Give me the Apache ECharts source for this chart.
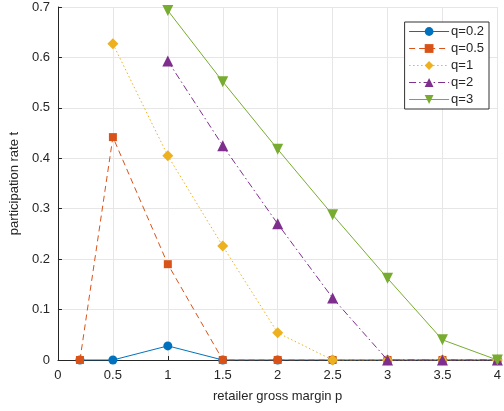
<!DOCTYPE html>
<html>
<head>
<meta charset="utf-8">
<script src="https://cdn.jsdelivr.net/npm/echarts@6/dist/echarts.min.js"></script>
<style>
  html, body { margin: 0; padding: 0; background: #fff; }
  #chart { width: 504px; height: 411px; }
</style>
</head>
<body>
<div id="chart"></div>
<script>
// Retailer gross margin p (x) vs participation rate t (y) for several q values
const margins = [0.2, 0.5, 1, 1.5, 2, 2.5, 3, 3.5, 4];
const rateQ02 = [0, 0, 0.028, 0, 0, 0, 0, 0, 0];
const rateQ05 = [0, 0.442, 0.19, 0, 0, 0, 0, 0, 0];
const rateQ1  = [null, 0.627, 0.405, 0.226, 0.054, 0, 0, 0, 0];
const rateQ2  = [null, null, 0.593, 0.425, 0.27, 0.123, 0, 0, 0];
const rateQ3  = [null, null, 0.693, 0.552, 0.418, 0.288, 0.162, 0.04, 0];
const seriesNames = ['q=0.2', 'q=0.5', 'q=1', 'q=2', 'q=3'];

const colors = ['#0072BD', '#D95319', '#EDB120', '#7E2F8E', '#77AC30'];
const lineTypes = ['solid', [6, 4], [1.5, 2.5], [7, 3, 1.5, 3], 'solid'];
const symbols = ['circle', 'rect', 'diamond', 'triangle', 'path://M0,0 L10,0 L5,9 Z'];
const symbolSizes = [9, 8, 11, 11, 11];

const allRates = [rateQ02, rateQ05, rateQ1, rateQ2, rateQ3];

function pairs(vals) {
  const out = [];
  vals.forEach((v, i) => { if (v !== null) out.push([margins[i], v]); });
  return out;
}

const series = allRates.map((vals, i) => ({
  name: seriesNames[i],
  type: 'line',
  data: pairs(vals),
  symbol: symbols[i],
  symbolSize: symbolSizes[i],
  showAllSymbol: true,
  color: colors[i],
  itemStyle: { color: colors[i] },
  lineStyle: { color: colors[i], width: 1, type: lineTypes[i] },
  emphasis: { disabled: true },
  animation: false,
  z: 2 + i
}));

const chart = echarts.init(document.getElementById('chart'), null, { renderer: 'canvas' });
const axisText = { color: '#262626', fontSize: 13, fontFamily: 'Arial, "Liberation Sans", sans-serif' };

chart.setOption({
  animation: false,
  grid: { left: 55, right: 1, top: 7, bottom: 51, containLabel: false },
  legend: {
    orient: 'vertical',
    right: 15,
    top: 22,
    data: seriesNames,
    backgroundColor: '#fff',
    borderColor: '#333',
    borderWidth: 1,
    padding: [2, 5, 2, 4],
    itemGap: 2,
    itemWidth: 40,
    itemHeight: 11,
    lineStyle: { width: 1 },
    textStyle: { color: '#262626', fontSize: 13, lineHeight: 15, fontFamily: 'Arial, "Liberation Sans", sans-serif', padding: [0, 0, 0, -3] }
  },
  xAxis: {
    type: 'value',
    min: 0, max: 4, interval: 0.5,
    name: 'retailer gross margin p',
    nameLocation: 'middle',
    nameGap: 30,
    nameTextStyle: axisText,
    axisLine: { show: true, lineStyle: { color: '#262626', width: 1 } },
    axisTick: { show: true, inside: true, length: 4, lineStyle: { color: '#262626' } },
    axisLabel: Object.assign({ margin: 9 }, axisText),
    splitLine: { show: true, lineStyle: { color: '#e6e6e6', width: 1 } }
  },
  yAxis: {
    type: 'value',
    min: 0, max: 0.7, interval: 0.1,
    name: 'participation rate t',
    nameLocation: 'middle',
    nameGap: 31,
    nameTextStyle: axisText,
    axisLine: { show: true, lineStyle: { color: '#262626', width: 1 } },
    axisTick: { show: true, inside: true, length: 4, lineStyle: { color: '#262626' } },
    axisLabel: Object.assign({ margin: 8 }, axisText),
    splitLine: { show: true, lineStyle: { color: '#e6e6e6', width: 1 } }
  },
  series: series
});
</script>
</body>
</html>
